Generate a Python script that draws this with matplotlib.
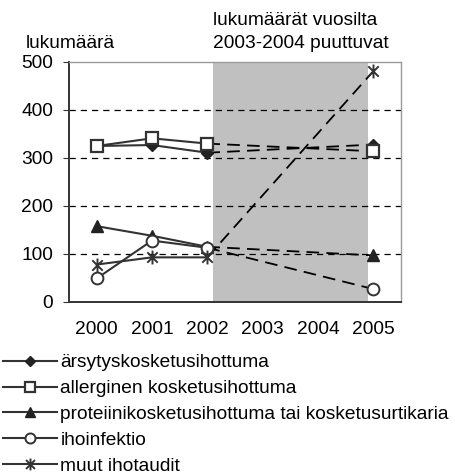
import matplotlib
matplotlib.use("Agg")
import matplotlib.pyplot as plt
from matplotlib.path import Path

plt.rcParams['font.family'] = ['Liberation Sans', 'DejaVu Sans']

# Data
years = ["2000", "2001", "2002", "2003", "2004", "2005"]
labels = ["ärsytyskosketusihottuma",
          "allerginen kosketusihottuma",
          "proteiinikosketusihottuma tai kosketusurtikaria",
          "ihoinfektio",
          "muut ihotaudit"]
arsytys = [325, 327, 311, None, None, 328]
allerginen = [325, 341, 330, None, None, 314]
proteiini = [158, 138, 115, None, None, 97]
ihoinfektio = [49, 128, 113, None, None, 27]
muut = [78, 93, 93, None, None, 481]
series = [arsytys, allerginen, proteiini, ihoinfektio, muut]

# asterisk marker: x plus vertical bar
star = Path([(0, -1), (0, 1), (-0.75, -0.75), (0.75, 0.75), (-0.75, 0.75), (0.75, -0.75)],
            [Path.MOVETO, Path.LINETO, Path.MOVETO, Path.LINETO, Path.MOVETO, Path.LINETO])

lc = "#333333"
fs = 13.8
styles = [
    dict(marker="D", ms=6.5, mfc="#222222", mec="#222222"),
    dict(marker="s", ms=8, mfc="white", mec=lc, mew=1.6),
    dict(marker="^", ms=8.5, mfc="#222222", mec="#222222"),
    dict(marker="o", ms=8.5, mfc="white", mec=lc, mew=1.4),
    dict(marker=star, ms=10, mfc=lc, mec=lc, mew=1.4),
]

fig = plt.figure(figsize=(4.56, 4.75), dpi=100)
ax = fig.add_axes([69/456, 1-302/475, 332/456, 240/475])

x = list(range(len(years)))
ax.axvspan(2.1, 4.9, color="#c0c0c0", lw=0, zorder=0)
for v in [100, 200, 300, 400]:
    ax.axhline(v, color="black", lw=0.9, dashes=(5, 4), zorder=1)

handles = []
for vals, st in zip(series, styles):
    known = [i for i, v in enumerate(vals) if v is not None]
    first = [i for i in known if i <= 2]
    ax.plot(first, [vals[i] for i in first], color=lc, lw=1.5, zorder=3)
    ax.plot([2, 5], [vals[2], vals[5]], color="black", lw=1.3, dashes=(7, 4), zorder=3)
    ax.plot(known, [vals[i] for i in known], ls="none", zorder=4, **st)
    h, = plt.plot([], [], color=lc, lw=1.5, **{k: (v * 0.85 if k == "ms" else v) for k, v in st.items()})
    handles.append(h)

ax.set_xlim(-0.5, 5.5)
ax.set_ylim(0, 500)
ax.set_yticks([0, 100, 200, 300, 400, 500])
ax.set_xticks(x)
ax.set_xticklabels(years)
ax.tick_params(axis="x", length=0, pad=14, labelsize=fs)
ax.tick_params(axis="y", length=4.5, width=0.8, color=lc, pad=7, labelsize=fs)
for s in ["left", "bottom"]:
    ax.spines[s].set_color(lc)
    ax.spines[s].set_linewidth(1.4)
for s in ["top", "right"]:
    ax.spines[s].set_color("#9a9a9a")
    ax.spines[s].set_linewidth(1.0)

fig.text(26/456, 1-48/475, "lukumäärä", fontsize=fs, va="baseline")
fig.text(213/456, 1-25/475, "lukumäärät vuosilta", fontsize=fs, va="baseline")
fig.text(213/456, 1-48/475, "2003-2004 puuttuvat", fontsize=fs, va="baseline")

fig.legend(handles, labels, loc="upper left", bbox_to_anchor=(3/456, 1-354/475),
           frameon=False, fontsize=fs, handlelength=2.8, handletextpad=0.2,
           labelspacing=0.44, borderpad=0, borderaxespad=0)

fig.savefig("out.png", dpi=100)
